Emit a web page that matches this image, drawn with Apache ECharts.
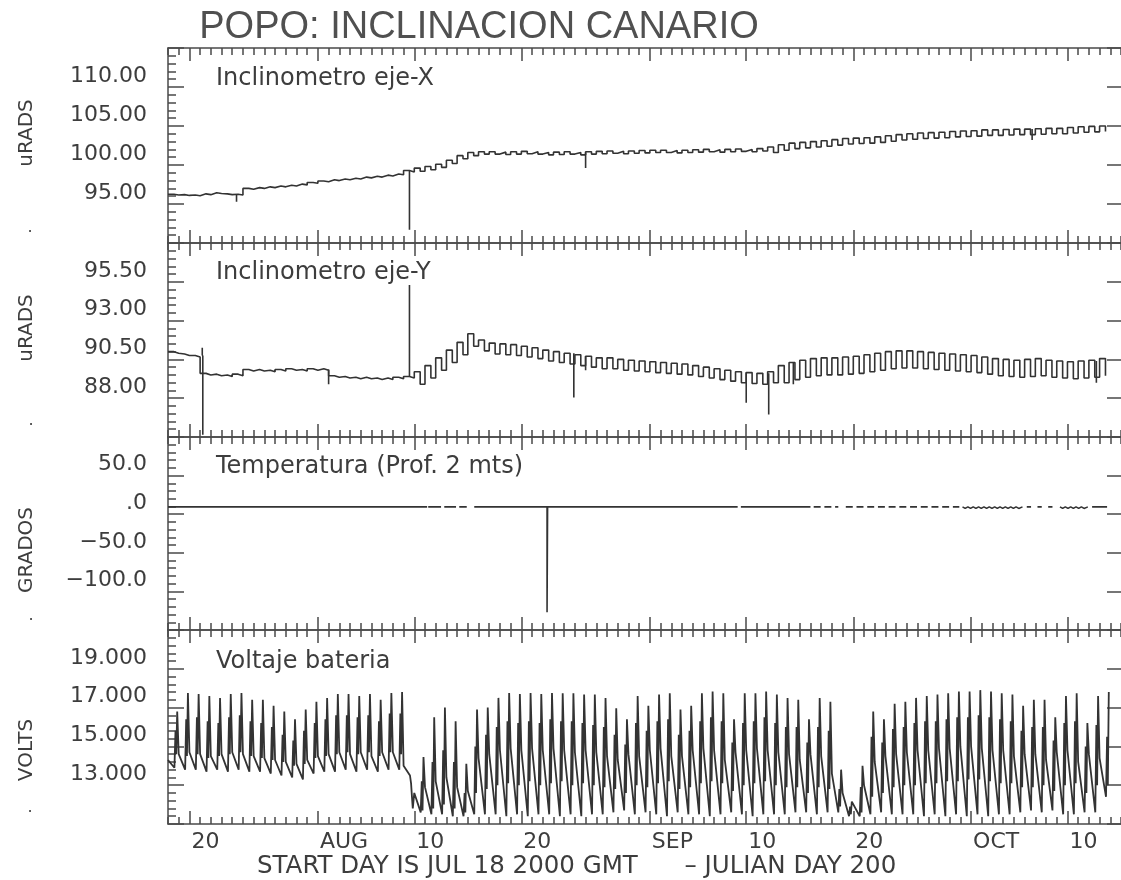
<!DOCTYPE html>
<html>
<head>
<meta charset="utf-8">
<script src="https://cdn.jsdelivr.net/npm/echarts@6.0.0/dist/echarts.min.js"></script>
<style>html,body{margin:0;padding:0;background:#fff}#c{width:1121px;height:880px}</style>
</head>
<body>
<div id="c"></div>
<script>
// ---------------- DATA (t = days since JUL 18 2000 00:00 GMT) ----------------
const DAY_COUNT = 89;                       // JUL 18 .. OCT 15
const MAJOR_DAYS = [2, 14, 23, 33, 45, 54, 64, 75, 84];
const MAJOR_LABELS = ['20', 'AUG', '10', '20', 'SEP', '10', '20', 'OCT', '10'];

const INCLX_TICKS = [95, 100, 105, 110];
const INCLX_LABELS = ['95.00', '100.00', '105.00', '110.00'];
const INCLY_TICKS = [88, 90.5, 93, 95.5];
const INCLY_LABELS = ['88.00', '90.50', '93.00', '95.50'];
const TEMP_TICKS = [-100, -50, 0, 50];
const TEMP_LABELS = ['\u2212100.0', '\u221250.0', '.0', '50.0'];
const VOLT_TICKS = [13, 15, 17, 19];
const VOLT_LABELS = ['13.000', '15.000', '17.000', '19.000'];

// daily level / daily dip, inclinometer X (uRADS)
const inclXBase = [
  96.25, 96.2, 96.15, 96.3, 96.45, 96.3, 96.25, 97.0, 97.1, 97.2,
  97.3, 97.4, 97.55, 97.75, 97.95, 98.1, 98.2, 98.3, 98.45, 98.55,
  98.7, 98.85, 99.3, 99.6, 99.8, 100.1, 100.6, 101.2, 101.6, 101.7,
  101.7, 101.65, 101.7, 101.75, 101.7, 101.6, 101.65, 101.7, 101.6, 101.7,
  101.75, 101.8, 101.75, 101.8, 101.85, 101.9, 101.9, 101.85, 101.9, 101.95,
  102.0, 101.95, 102.0, 102.05, 102.0, 102.1, 102.3, 102.6, 102.8, 102.9,
  103.0, 103.1, 103.25, 103.4, 103.45, 103.5, 103.6, 103.75, 103.9, 104.0,
  104.1, 104.15, 104.2, 104.3, 104.35, 104.4, 104.5, 104.5, 104.55, 104.6,
  104.6, 104.65, 104.7, 104.7, 104.8, 104.9, 104.95, 105.0
];
const inclXDip = [
  96.15, 96.1, 96.05, 96.2, 96.35, 96.2, 96.15, 96.9, 97.0, 97.1,
  97.2, 97.3, 97.45, 97.65, 97.85, 98.0, 98.1, 98.2, 98.35, 98.45,
  98.6, 98.75, 99.1, 99.2, 99.4, 99.7, 100.2, 100.8, 101.2, 101.4,
  101.4, 101.35, 101.4, 101.45, 101.4, 101.3, 101.35, 101.4, 101.3, 101.4,
  101.45, 101.5, 101.45, 101.5, 101.55, 101.6, 101.6, 101.55, 101.6, 101.65,
  101.7, 101.65, 101.7, 101.75, 101.7, 101.8, 101.6, 101.9, 102.1, 102.2,
  102.3, 102.4, 102.55, 102.7, 102.75, 102.8, 102.9, 103.05, 103.2, 103.3,
  103.4, 103.45, 103.5, 103.6, 103.65, 103.7, 103.8, 103.8, 103.85, 103.9,
  103.9, 103.95, 104.0, 104.0, 104.1, 104.2, 104.25, 104.3
];
// spikes: [t, from, to]
const inclXSpikes = [[6.4, 96.25, 95.3], [22.55, 99.3, 91.7], [39.0, 101.6, 99.6], [80.7, 104.6, 103.2]];

// inclinometer Y (uRADS)
const inclYBase = [
  91.0, 90.85, 90.75, 89.6, 89.55, 89.5, 89.55, 89.85, 89.85, 89.8,
  89.85, 89.9, 89.85, 89.9, 89.9, 89.45, 89.4, 89.35, 89.35, 89.3,
  89.3, 89.35, 89.4, 89.7, 90.1, 90.6, 91.1, 91.6, 92.15, 91.75,
  91.55, 91.5, 91.45, 91.35, 91.25, 91.1, 91.0, 90.9, 90.8, 90.7,
  90.6, 90.6, 90.5, 90.45, 90.4, 90.35, 90.3, 90.25, 90.2, 90.1,
  90.0, 89.9, 89.8, 89.7, 89.65, 89.6, 89.7, 90.1, 90.3, 90.45,
  90.55, 90.6, 90.6, 90.65, 90.7, 90.8, 90.9, 91.0, 91.05, 91.05,
  91.0, 90.95, 90.9, 90.85, 90.8, 90.75, 90.65, 90.55, 90.5, 90.45,
  90.5, 90.55, 90.45, 90.4, 90.35, 90.4, 90.45, 90.55
];
const inclYDip = [
  90.9, 90.75, 90.65, 89.5, 89.45, 89.4, 89.45, 89.75, 89.75, 89.7,
  89.75, 89.8, 89.75, 89.8, 89.8, 89.35, 89.3, 89.25, 89.25, 89.2,
  89.2, 89.25, 89.3, 88.9, 89.3, 89.8, 90.3, 90.8, 91.35, 91.05,
  90.85, 90.8, 90.75, 90.65, 90.55, 90.4, 90.3, 90.2, 90.1, 90.0,
  89.9, 89.9, 89.8, 89.75, 89.7, 89.65, 89.6, 89.55, 89.5, 89.4,
  89.3, 89.2, 89.1, 89.0, 88.95, 88.9, 89.0, 89.0, 89.2, 89.35,
  89.45, 89.5, 89.5, 89.55, 89.6, 89.7, 89.8, 89.9, 89.95, 89.95,
  89.9, 89.85, 89.8, 89.75, 89.7, 89.65, 89.55, 89.45, 89.4, 89.35,
  89.4, 89.45, 89.35, 89.3, 89.25, 89.3, 89.35, 89.45
];
const inclYSpikes = [[3.2, 90.75, 91.25], [3.25, 90.75, 85.65], [15.0, 89.85, 88.9], [22.55, 89.4, 95.3],
  [37.9, 90.9, 88.05], [39.0, 90.7, 89.8], [54.0, 89.65, 87.7], [56.1, 89.6, 86.95], [58.4, 90.3, 88.9], [86.7, 90.4, 89.0]];

// temperature (GRADOS); null = no data
const temperature = [
  [0, 9.5], [24.2, 9.5], [24.2, null],
  [24.3, 9.5], [25.5, 9.5], [25.5, null],
  [25.8, 9.5], [26.9, 9.5], [26.9, null],
  [27.2, 9.5], [27.9, 9.5], [27.9, null],
  [28.6, 9.5], [35.4, 9.5], [35.4, -127], [35.45, 9.5], [53.2, 9.5], [53.2, null],
  [53.5, 9.5], [60.0, 9.5], [60.0, null],
  [60.3, 9.5], [60.95, 9.5], [60.95, null], [61.3, 9.5], [61.95, 9.5], [61.95, null],
  [62.3, 9.5], [62.6, 9.5], [62.6, null], [63.3, 9.5], [63.95, 9.5], [63.95, null],
  [64.3, 9.5], [64.95, 9.5], [64.95, null], [65.3, 9.5], [65.95, 9.5], [65.95, null],
  [66.3, 9.5], [66.95, 9.5], [66.95, null], [67.3, 9.5], [67.95, 9.5], [67.95, null],
  [68.3, 9.5], [68.95, 9.5], [68.95, null], [69.3, 9.5], [69.95, 9.5], [69.95, null],
  [70.3, 9.5], [70.95, 9.5], [70.95, null], [71.3, 9.5], [71.95, 9.5], [71.95, null],
  [72.3, 9.5], [72.95, 9.5], [72.95, null], [73.3, 9.5], [73.9, 9.5], [73.9, null],
  [74.2, 9.5], [74.45, 7.5], [74.7, 9.5], [74.95, 7.5], [75.2, 9.5], [75.45, 7.5], [75.7, 9.5],
  [75.95, 7.5], [76.2, 9.5], [76.45, 7.5], [76.7, 9.5], [76.95, 7.5], [77.2, 9.5], [77.45, 7.5],
  [77.7, 9.5], [77.95, 7.5], [78.2, 9.5], [78.45, 7.5], [78.7, 9.5], [78.95, 7.5], [79.2, 9.5],
  [79.45, 7.5], [79.8, 9.5], [79.8, null],
  [80.2, 9.5], [80.6, 9.5], [80.6, null], [81.2, 9.5], [81.6, 9.5], [81.6, null],
  [82.2, 9.5], [82.6, 9.5], [82.6, null],
  [83.3, 9.5], [83.55, 7.5], [83.8, 9.5], [84.05, 7.5], [84.3, 9.5], [84.55, 7.5], [84.8, 9.5],
  [85.05, 7.5], [85.3, 9.5], [85.55, 7.5], [85.9, 9.5], [85.9, null],
  [86.3, 9.5], [87.7, 9.5]
];

// battery voltage, per day: [evening, pre-dawn low, charge band, mid, daily peak]
const VOLT_PHASE = [0.0, 0.6, 0.7, 0.77, 0.86];
const voltage = [
  [14.3, 13.9, 15.8, 14.6, 16.8], [14.6, 13.8, 16.4, 14.5, 17.75], [14.7, 13.8, 16.5, 14.6, 17.7],
  [14.6, 13.7, 16.3, 14.4, 17.6], [14.5, 13.8, 16.2, 14.5, 17.5], [14.6, 13.7, 16.5, 14.6, 17.7],
  [14.7, 13.8, 16.6, 14.7, 17.75], [14.6, 13.7, 16.3, 14.5, 17.4], [14.5, 13.7, 16.2, 14.4, 17.4],
  [14.4, 13.6, 16.0, 14.3, 17.1], [14.3, 13.5, 15.6, 14.2, 16.8], [14.2, 13.4, 15.3, 14.0, 16.4],
  [14.1, 13.3, 15.8, 14.1, 16.9], [14.3, 13.6, 16.2, 14.4, 17.3], [14.5, 13.7, 16.4, 14.5, 17.5],
  [14.6, 13.7, 16.6, 14.6, 17.7], [14.7, 13.8, 16.6, 14.7, 17.7], [14.6, 13.7, 16.5, 14.6, 17.6],
  [14.7, 13.8, 16.6, 14.7, 17.7], [14.5, 13.7, 16.3, 14.5, 17.4], [14.7, 13.8, 16.7, 14.7, 17.75],
  [14.7, 13.8, 16.7, 14.6, 17.8], [14.0, 13.5, 13.1, 12.5, 11.8], [12.6, 11.6, 13.2, 11.7, 14.45],
  [12.9, 11.5, 14.2, 11.8, 16.5], [13.2, 11.5, 14.8, 12.0, 17.0], [13.4, 11.4, 14.2, 11.8, 16.3],
  [12.9, 11.4, 12.6, 11.6, 14.1], [12.7, 11.5, 15.0, 12.6, 16.9], [14.4, 11.5, 15.6, 12.8, 17.0],
  [14.6, 11.5, 16.0, 13.0, 17.5], [14.8, 11.4, 16.3, 13.1, 17.75], [14.9, 11.5, 16.2, 13.0, 17.7],
  [14.8, 11.4, 16.3, 13.2, 17.75], [14.9, 11.5, 16.2, 13.0, 17.7], [14.8, 11.5, 16.4, 13.1, 17.75],
  [14.9, 11.4, 16.3, 13.2, 17.74], [14.8, 11.5, 16.3, 13.0, 17.74], [14.7, 11.4, 16.2, 13.1, 17.67],
  [14.8, 11.5, 16.1, 13.0, 17.67], [14.7, 11.5, 16.0, 12.9, 17.5], [14.5, 11.6, 15.6, 12.8, 16.97],
  [14.3, 11.7, 15.1, 12.6, 16.4], [14.6, 11.5, 16.2, 13.0, 17.6], [14.5, 11.6, 15.8, 12.9, 17.1],
  [14.8, 11.5, 16.3, 13.1, 17.67], [14.9, 11.4, 16.4, 13.2, 17.74], [14.5, 11.6, 15.6, 12.8, 16.9],
  [14.5, 11.5, 15.8, 12.9, 17.1], [14.8, 11.5, 16.3, 13.1, 17.74], [14.9, 11.4, 16.5, 13.2, 17.83],
  [14.8, 11.5, 16.3, 13.1, 17.74], [14.3, 11.6, 15.2, 12.7, 16.4], [14.7, 11.5, 16.2, 13.0, 17.74],
  [14.8, 11.4, 16.3, 13.1, 17.74], [14.9, 11.5, 16.5, 13.2, 17.83], [14.8, 11.5, 16.2, 13.0, 17.67],
  [14.7, 11.5, 16.0, 12.9, 17.5], [14.6, 11.6, 16.0, 12.9, 17.4], [14.3, 11.6, 15.2, 12.6, 16.4],
  [14.6, 11.5, 16.0, 12.9, 17.5], [14.5, 11.6, 15.8, 12.8, 17.3], [13.6, 11.6, 12.8, 11.9, 13.8],
  [12.6, 11.4, 11.9, 11.5, 12.15], [12.2, 11.4, 12.9, 11.6, 14.0], [13.0, 11.5, 15.5, 12.4, 16.8],
  [14.2, 11.6, 15.2, 12.6, 16.4], [14.5, 11.5, 15.9, 12.9, 17.2], [14.6, 11.5, 16.0, 13.0, 17.3],
  [14.7, 11.5, 16.2, 13.0, 17.5], [14.8, 11.4, 16.3, 13.1, 17.6], [14.8, 11.5, 16.3, 13.1, 17.67],
  [14.9, 11.4, 16.4, 13.2, 17.74], [14.9, 11.5, 16.5, 13.2, 17.83], [15.0, 11.4, 16.5, 13.3, 17.83],
  [15.0, 11.5, 16.6, 13.3, 17.9], [14.9, 11.4, 16.5, 13.2, 17.83], [14.8, 11.5, 16.4, 13.1, 17.74],
  [14.8, 11.5, 16.3, 13.1, 17.67], [14.5, 11.6, 15.8, 12.9, 17.1], [14.6, 11.7, 16.0, 12.9, 17.4],
  [14.6, 11.6, 16.0, 13.0, 17.4], [14.3, 11.7, 15.3, 12.7, 16.5], [14.7, 11.5, 16.2, 13.0, 17.6],
  [14.8, 11.5, 16.3, 13.1, 17.74], [14.2, 11.6, 15.0, 12.6, 16.2], [14.6, 11.6, 16.1, 13.0, 17.6],
  [14.4, 12.4, 15.5, 13.0, 17.8]
];

// ---------------- BUILD ----------------
const XY_PHASE = [0.0, 0.55];
function stepData(base, dip) {
  const out = [];
  base.forEach((b, d) => { out.push([d + XY_PHASE[0], b]); out.push([d + XY_PHASE[1], dip[d]]); });
  return out;
}
function spikeData(sp) {
  const out = [];
  sp.forEach(s => { out.push([s[0], s[1]], [s[0], s[2]], [s[0], '-']); });
  return out;
}
function voltData(rows) {
  const out = [];
  rows.forEach((r, d) => r.forEach((v, j) => out.push([d + VOLT_PHASE[j], v])));
  return out;
}
const tempData = temperature.map(p => [p[0], p[1] === null ? '-' : p[1]]);

const AX = '#4a4a4a', TXT = '#3d3d3d', LINE = '#333333';
const FONT = 'DejaVu Sans';
const PANELS = [
  { top: 48, bottom: 243, min: 90, max: 115, interval: 5, ticks: INCLX_TICKS, labels: INCLX_LABELS },
  { top: 243, bottom: 437, min: 85.5, max: 98, interval: 2.5, ticks: INCLY_TICKS, labels: INCLY_LABELS },
  { top: 437, bottom: 630, min: -150, max: 100, interval: 50, ticks: TEMP_TICKS, labels: TEMP_LABELS },
  { top: 630, bottom: 824, min: 11, max: 21, interval: 2, ticks: VOLT_TICKS, labels: VOLT_LABELS }
];
const dayKeys = Array.from({ length: DAY_COUNT + 1 }, (_, i) => String(i));
const isMajor = (i) => MAJOR_DAYS.indexOf(i) >= 0;

const grids = [], xAxes = [], yAxes = [];
PANELS.forEach((p, k) => {
  const g = { left: 168, right: 0, top: p.top, height: p.bottom - p.top, outerBoundsMode: 'none', containLabel: false };
  grids.push(Object.assign({}, g), Object.assign({}, g));
  const gA = 2 * k, gB = 2 * k + 1;
  const lineStyle = { color: AX, width: 1.5 };
  ['bottom', 'top'].forEach(pos => xAxes.push({
    gridIndex: gA, type: 'value', position: pos, min: 0, max: DAY_COUNT, interval: 1,
    axisLine: { show: true, onZero: false, lineStyle }, axisTick: { show: true, inside: true, length: 7, lineStyle },
    axisLabel: { show: false }, splitLine: { show: false }
  }));
  ['bottom', 'top'].forEach(pos => xAxes.push({
    gridIndex: gB, type: 'category', position: pos, data: dayKeys, boundaryGap: false,
    axisLine: { show: false, onZero: false }, axisTick: { show: true, inside: true, length: 13, interval: (i) => isMajor(i), lineStyle },
    axisLabel: {
      show: pos === 'bottom' && k === PANELS.length - 1, interval: (i) => isMajor(i),
      formatter: (v) => { const i = MAJOR_DAYS.indexOf(+v); return i < 0 ? '' : MAJOR_LABELS[i]; },
      align: 'left', margin: 7, padding: [0, 0, 0, 2], color: TXT, fontSize: 22, fontFamily: FONT
    },
    splitLine: { show: false }
  }));
  const fmt = (v) => { for (let i = 0; i < p.ticks.length; i++) if (Math.abs(p.ticks[i] - v) < 1e-6) return p.labels[i]; return ''; };
  yAxes.push({
    gridIndex: gA, type: 'value', position: 'left', min: p.min, max: p.max, interval: p.interval,
    axisLine: { show: true, onZero: false, lineStyle }, axisTick: { show: true, inside: true, length: 16, lineStyle },
    minorTick: { show: true, splitNumber: 5, length: 8, lineStyle },
    axisLabel: { show: true, margin: 21, verticalAlign: 'bottom', showMinLabel: false, showMaxLabel: false, formatter: fmt, color: TXT, fontSize: 22, fontFamily: FONT },
    splitLine: { show: false }, minorSplitLine: { show: false }
  });
  yAxes.push({
    gridIndex: gA, type: 'value', position: 'right', min: p.min, max: p.max, interval: p.interval,
    axisLine: { show: false, onZero: false }, axisTick: { show: true, inside: true, length: 14, lineStyle },
    axisLabel: { show: false }, splitLine: { show: false }
  });
  yAxes.push({ gridIndex: gB, type: 'value', show: false, min: 0, max: 1, axisLine: { onZero: false } });
});

const lineBase = { type: 'line', showSymbol: false, symbol: 'none', connectNulls: false, animation: false,
  lineStyle: { color: LINE, width: 1.6 }, emphasis: { disabled: true } };
const series = [
  Object.assign({}, lineBase, { name: 'Inclinometro eje-X', xAxisIndex: 0, yAxisIndex: 0, step: 'end', data: stepData(inclXBase, inclXDip) }),
  Object.assign({}, lineBase, { name: 'X spikes', xAxisIndex: 0, yAxisIndex: 0, data: spikeData(inclXSpikes) }),
  Object.assign({}, lineBase, { name: 'Inclinometro eje-Y', xAxisIndex: 4, yAxisIndex: 3, step: 'end', data: stepData(inclYBase, inclYDip) }),
  Object.assign({}, lineBase, { name: 'Y spikes', xAxisIndex: 4, yAxisIndex: 3, data: spikeData(inclYSpikes) }),
  Object.assign({}, lineBase, { name: 'Temperatura', xAxisIndex: 8, yAxisIndex: 6, data: tempData }),
  Object.assign({}, lineBase, { name: 'Voltaje bateria', xAxisIndex: 12, yAxisIndex: 9, data: voltData(voltage), lineStyle: { color: LINE, width: 1.8 } })
];

function txt(x, y, text, size, opts) {
  return Object.assign({ type: 'text', x, y, silent: true,
    style: Object.assign({ text, fill: TXT, font: size + 'px "' + FONT + '"', align: 'left', verticalAlign: 'middle' }, (opts && opts.style) || {}) },
    opts && opts.rotation ? { rotation: opts.rotation } : {});
}
const graphic = [
  txt(479, 28, 'POPO: INCLINACION CANARIO', 38, { style: { align: 'center', font: '38px "Liberation Sans"', fill: '#505050' } }),
  txt(216, 79, 'Inclinometro eje-X', 24),
  txt(216, 273, 'Inclinometro eje-Y', 24),
  txt(216, 467, 'Temperatura (Prof. 2 mts)', 24),
  txt(216, 662, 'Voltaje bateria', 24),
  txt(27, 133, 'uRADS', 20, { rotation: Math.PI / 2, style: { align: 'center' } }),
  txt(27, 328, 'uRADS', 20, { rotation: Math.PI / 2, style: { align: 'center' } }),
  txt(27, 550, 'GRADOS', 20, { rotation: Math.PI / 2, style: { align: 'center' } }),
  txt(27, 750, 'VOLTS', 20, { rotation: Math.PI / 2, style: { align: 'center' } }),
  txt(30, 228, '.', 16, { style: { align: 'center' } }),
  txt(31, 421, '.', 16, { style: { align: 'center' } }),
  txt(31, 616, '.', 16, { style: { align: 'center' } }),
  txt(30, 808, '.', 16, { style: { align: 'center' } }),
  txt(257, 867, 'START DAY IS JUL 18 2000 GMT      \u2013 JULIAN DAY 200', 24.5)
];

const chart = echarts.init(document.getElementById('c'), null, { renderer: 'canvas' });
chart.setOption({
  animation: false,
  backgroundColor: '#ffffff',
  textStyle: { fontFamily: FONT },
  grid: grids, xAxis: xAxes, yAxis: yAxes, series, graphic
});
</script>
</body>
</html>
